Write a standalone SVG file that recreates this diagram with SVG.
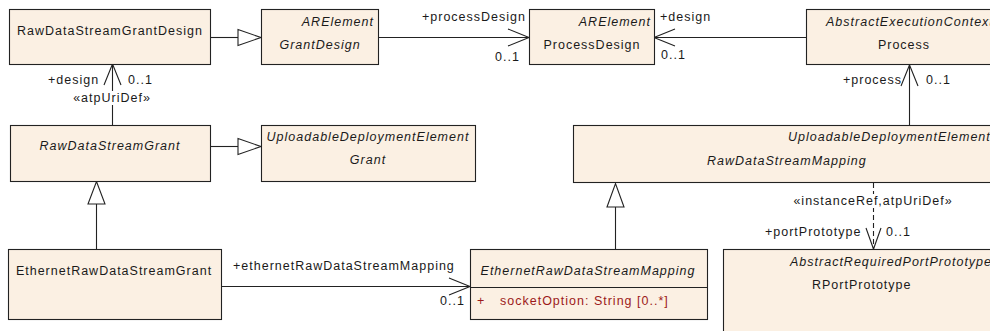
<svg xmlns="http://www.w3.org/2000/svg" width="990" height="331" viewBox="0 0 990 331">
<style>
text{font-family:"Liberation Sans",Arial,sans-serif;font-size:12.5px;letter-spacing:1px;fill:#1a1a1a}
.i{font-style:italic}
.m{text-anchor:middle}
.e{text-anchor:end}
.box{fill:#FBF0E3;stroke:#222222;stroke-width:1.1}
.ln{fill:none;stroke:#222222;stroke-width:1.1}
.tri{fill:#ffffff;stroke:#222222;stroke-width:1.1}
.red{fill:#9c1a1a}
.dash{stroke-dasharray:5 3}
</style>
<rect width="990" height="331" fill="#ffffff"/>
<g id="connectors">
  <line class="ln" x1="210" y1="37.5" x2="238" y2="37.5"/>
  <polygon class="tri" points="238,29.5 261,37.5 238,45.5"/>
  <line class="ln" x1="378" y1="37.5" x2="529" y2="37.5"/>
  <polyline class="ln" points="508,29 529,37.5 508,46"/>
  <text x="422" y="21">+processDesign</text>
  <text x="495" y="61">0..1</text>
  <line class="ln" x1="806" y1="37.5" x2="654" y2="37.5"/>
  <polyline class="ln" points="675,29 654,37.5 675,46"/>
  <text x="660" y="21">+design</text>
  <text x="661" y="59">0..1</text>
  <line class="ln" x1="909.5" y1="125" x2="909.5" y2="65"/>
  <polyline class="ln" points="901,86 909.5,65 918,86"/>
  <text x="843" y="84">+process</text>
  <text x="926" y="84">0..1</text>
  <line class="ln" x1="112.5" y1="64" x2="112.5" y2="125"/>
  <polyline class="ln" points="104,85 112.5,64 121,85"/>
  <rect x="70" y="91" width="84" height="14" fill="#ffffff"/>
  <text x="48" y="84">+design</text>
  <text x="128" y="84">0..1</text>
  <text class="m" x="112" y="102">«atpUriDef»</text>
  <line class="ln" x1="210" y1="146.5" x2="238" y2="146.5"/>
  <polygon class="tri" points="238,138.5 261,146.5 238,154.5"/>
  <line class="ln" x1="96.5" y1="249" x2="96.5" y2="204"/>
  <polygon class="tri" points="88,204 96.5,181.5 105,204"/>
  <line class="ln" x1="615.5" y1="249" x2="615.5" y2="207"/>
  <polygon class="tri" points="607,207 615.5,183.5 624,207"/>
  <line class="ln" x1="221" y1="286.5" x2="470" y2="286.5"/>
  <polyline class="ln" points="449,278 470,286.5 449,295"/>
  <text x="233" y="270">+ethernetRawDataStreamMapping</text>
  <text x="440" y="305">0..1</text>
  <line class="ln dash" x1="873.5" y1="183" x2="873.5" y2="249"/>
  <polyline class="ln" points="866,228 873.5,249 881,228"/>
  <rect x="791" y="194" width="164" height="14" fill="#ffffff"/>
  <text class="m" x="873" y="205">«instanceRef,atpUriDef»</text>
  <text x="765" y="236">+portPrototype</text>
  <text x="886" y="236">0..1</text>
</g>
<g id="RawDataStreamGrantDesign">
  <rect class="box" x="9.5" y="9.5" width="201" height="55"/>
  <text class="m" x="110" y="35">RawDataStreamGrantDesign</text>
</g>
<g id="GrantDesign">
  <rect class="box" x="261.5" y="9.5" width="117" height="55"/>
  <text class="i e" x="374" y="26">ARElement</text>
  <text class="i m" x="320" y="49">GrantDesign</text>
</g>
<g id="ProcessDesign">
  <rect class="box" x="529.5" y="9.5" width="125" height="55"/>
  <text class="i e" x="651" y="26">ARElement</text>
  <text class="m" x="592" y="49">ProcessDesign</text>
</g>
<g id="Process">
  <rect class="box" x="806.5" y="9.5" width="196" height="55"/>
  <text class="i" x="826" y="26">AbstractExecutionContext</text>
  <text class="m" x="904" y="49">Process</text>
</g>
<g id="RawDataStreamGrant">
  <rect class="box" x="10.5" y="125.5" width="200" height="56"/>
  <text class="i m" x="110" y="150">RawDataStreamGrant</text>
</g>
<g id="UploadableDeploymentElementGrant">
  <rect class="box" x="261.5" y="125.5" width="214" height="56"/>
  <text class="i m" x="368" y="141">UploadableDeploymentElement</text>
  <text class="i m" x="368" y="164">Grant</text>
</g>
<g id="RawDataStreamMapping">
  <rect class="box" x="573.5" y="125.5" width="429" height="57"/>
  <text class="i" x="788" y="141">UploadableDeploymentElement</text>
  <text class="i" x="707" y="165">RawDataStreamMapping</text>
</g>
<g id="EthernetRawDataStreamGrant">
  <rect class="box" x="8.5" y="249.5" width="213" height="70"/>
  <text class="m" x="114" y="275">EthernetRawDataStreamGrant</text>
</g>
<g id="EthernetRawDataStreamMapping">
  <rect class="box" x="470.5" y="249.5" width="237" height="70"/>
  <line class="ln" x1="470.5" y1="287.5" x2="707.5" y2="287.5"/>
  <text class="i m" x="588" y="275">EthernetRawDataStreamMapping</text>
  <text class="red" x="477" y="305">+</text>
  <text class="red" x="500" y="305">socketOption: String [0..*]</text>
</g>
<g id="RPortPrototype">
  <rect class="box" x="723.5" y="249.5" width="279" height="100"/>
  <text class="i" x="790" y="266">AbstractRequiredPortPrototype</text>
  <text x="812" y="289">RPortPrototype</text>
</g>
</svg>
